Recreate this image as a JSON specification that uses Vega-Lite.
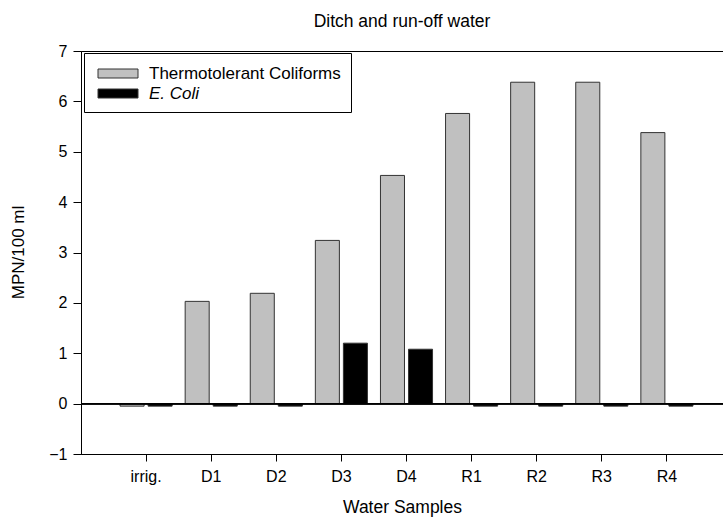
{
  "$schema": "https://vega.github.io/schema/vega-lite/v6.json",
  "width": 642,
  "height": 403,
  "autosize": {"type": "none"},
  "padding": {"left": 81, "top": 51, "right": 0, "bottom": 67},
  "config": {
    "font": "Liberation Sans",
    "view": {"stroke": "black", "strokeWidth": 1},
    "axis": {"domainColor": "black", "tickColor": "black", "labelColor": "black", "titleColor": "black", "grid": false, "titleFontWeight": "normal"}
  },
  "title": {"text": "Ditch and run-off water", "fontSize": 17.5, "fontWeight": "normal", "offset": 13, "anchor": "middle", "color": "black"},
  "data": {
    "values": [
      {"sample": "irrig.", "type": "Thermotolerant Coliforms", "value": -0.05},
      {"sample": "irrig.", "type": "E. Coli", "value": -0.05},
      {"sample": "D1", "type": "Thermotolerant Coliforms", "value": 2.03},
      {"sample": "D1", "type": "E. Coli", "value": -0.05},
      {"sample": "D2", "type": "Thermotolerant Coliforms", "value": 2.19},
      {"sample": "D2", "type": "E. Coli", "value": -0.05},
      {"sample": "D3", "type": "Thermotolerant Coliforms", "value": 3.24},
      {"sample": "D3", "type": "E. Coli", "value": 1.2},
      {"sample": "D4", "type": "Thermotolerant Coliforms", "value": 4.53},
      {"sample": "D4", "type": "E. Coli", "value": 1.08},
      {"sample": "R1", "type": "Thermotolerant Coliforms", "value": 5.76},
      {"sample": "R1", "type": "E. Coli", "value": -0.05},
      {"sample": "R2", "type": "Thermotolerant Coliforms", "value": 6.38},
      {"sample": "R2", "type": "E. Coli", "value": -0.05},
      {"sample": "R3", "type": "Thermotolerant Coliforms", "value": 6.38},
      {"sample": "R3", "type": "E. Coli", "value": -0.05},
      {"sample": "R4", "type": "Thermotolerant Coliforms", "value": 5.38},
      {"sample": "R4", "type": "E. Coli", "value": -0.05}
    ]
  },
  "layer": [
    {
      "mark": {"type": "bar", "stroke": "#333333", "strokeWidth": 1},
      "encoding": {
        "x": {
          "field": "sample", "type": "nominal",
          "sort": ["irrig.", "D1", "D2", "D3", "D4", "R1", "R2", "R3", "R4"],
          "scale": {"paddingInner": 0.2, "paddingOuter": 0.531, "align": 0.565},
          "axis": {"title": "Water Samples", "labelAngle": 0, "labelFontSize": 16, "titleFontSize": 17.5, "tickSize": 7, "labelPadding": 7, "titlePadding": 14}
        },
        "xOffset": {
          "field": "type", "type": "nominal",
          "sort": ["Thermotolerant Coliforms", "E. Coli"],
          "scale": {"paddingInner": 0.143}
        },
        "y": {
          "field": "value", "type": "quantitative",
          "scale": {"domain": [-1, 7], "nice": false},
          "axis": {"title": "MPN/100 ml", "values": [-1, 0, 1, 2, 3, 4, 5, 6, 7], "labelFontSize": 16, "titleFontSize": 17, "tickSize": 8, "labelPadding": 6, "titleX": -63, "titleY": 201, "titleBaseline": "middle"}
        },
        "color": {
          "field": "type", "type": "nominal",
          "scale": {"domain": ["Thermotolerant Coliforms", "E. Coli"], "range": ["#c0c0c0", "#000000"]},
          "legend": {
            "title": null,
            "orient": "none",
            "legendX": 3,
            "legendY": 2,
            "direction": "vertical",
            "strokeColor": "black",
            "fillColor": "white",
            "padding": 10,
            "symbolType": "M-0.65,-0.45H3.35V0.45H-0.65Z",
            "symbolSize": 400,
            "symbolStrokeColor": "#333333",
            "symbolStrokeWidth": 1,
            "symbolOpacity": 1,
            "labelFontSize": 17,
            "labelLimit": 0,
            "labelColor": "black",
            "labelOffset": 34,
            "rowPadding": 1,
            "encode": {"labels": {"update": {"fontStyle": {"signal": "datum.label == 'E. Coli' ? 'italic' : 'normal'"}}}}
          }
        }
      }
    },
    {
      "mark": {"type": "rule", "color": "black", "strokeWidth": 1},
      "encoding": {"y": {"datum": 0}}
    }
  ]
}
